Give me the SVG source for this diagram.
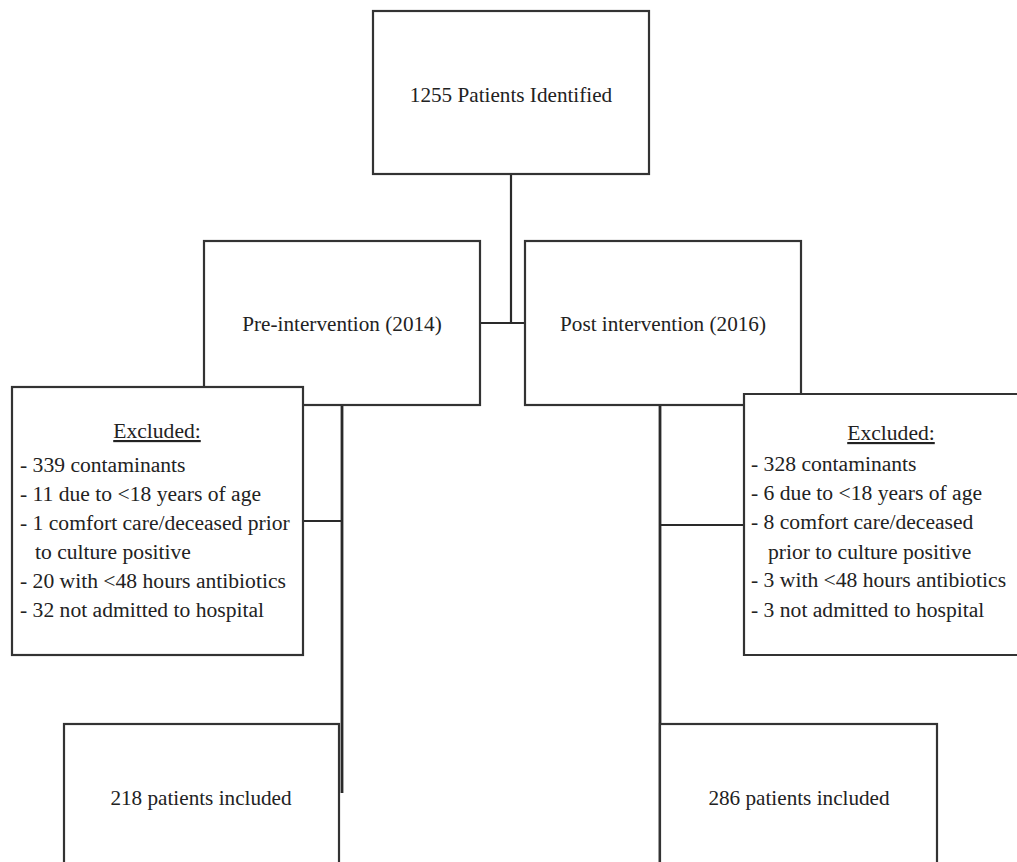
<svg xmlns="http://www.w3.org/2000/svg" width="1017" height="862" viewBox="0 0 1017 862">
<style>
.box{fill:#fff;stroke:#333;stroke-width:2.2}
.ln{fill:none;stroke:#2a2a2a;stroke-width:2.2}
text{font-family:'Liberation Serif','DejaVu Serif',serif;font-size:21.2px;fill:#222}
.l{font-size:21.6px}
.c{text-anchor:middle}
</style>
<rect width="1017" height="862" fill="#fff"/>
<g id="connectors">
<line class="ln" x1="511" y1="174" x2="511" y2="323"/>
<line class="ln" x1="480" y1="323" x2="525" y2="323"/>
<line class="ln" x1="342" y1="405" x2="342" y2="793" style="stroke-width:2.8"/>
<line class="ln" x1="303" y1="521" x2="342" y2="521"/>
<line class="ln" x1="660" y1="405" x2="660" y2="862" style="stroke-width:2.8"/>
<line class="ln" x1="660" y1="525" x2="744" y2="525"/>
</g>
<g id="n-identified">
<rect class="box" x="373" y="11" width="276" height="163"/>
<text class="c" x="511" y="102">1255 Patients Identified</text>
</g>
<g id="n-pre">
<rect class="box" x="204" y="241" width="276" height="164"/>
<text class="c" x="342" y="331">Pre-intervention (2014)</text>
</g>
<g id="n-post">
<rect class="box" x="525" y="241" width="276" height="164"/>
<text class="c" x="663" y="331">Post intervention (2016)</text>
</g>
<g id="n-excl-pre">
<rect class="box" x="12" y="387" width="291" height="268"/>
<text class="c l" x="157" y="438" text-decoration="underline">Excluded:</text>
<text class="l" x="20" y="472">- 339 contaminants</text>
<text class="l" x="20" y="501">- 11 due to &lt;18 years of age</text>
<text class="l" x="20" y="530">- 1 comfort care/deceased prior</text>
<text class="l" x="35" y="559">to culture positive</text>
<text class="l" x="20" y="588">- 20 with &lt;48 hours antibiotics</text>
<text class="l" x="20" y="617">- 32 not admitted to hospital</text>
</g>
<g id="n-excl-post">
<path class="box" d="M1020,394 H744 V655 H1020"/>
<text class="c l" x="891" y="440" text-decoration="underline">Excluded:</text>
<text class="l" x="751" y="471">- 328 contaminants</text>
<text class="l" x="751" y="500">- 6 due to &lt;18 years of age</text>
<text class="l" x="751" y="529">- 8 comfort care/deceased</text>
<text class="l" x="768" y="559">prior to culture positive</text>
<text class="l" x="751" y="587">- 3 with &lt;48 hours antibiotics</text>
<text class="l" x="751" y="617">- 3 not admitted to hospital</text>
</g>
<g id="n-incl-pre">
<rect class="box" x="64" y="724" width="275" height="150"/>
<text class="c" x="201" y="805">218 patients included</text>
</g>
<g id="n-incl-post">
<rect class="box" x="660" y="724" width="277" height="150"/>
<text class="c" x="799" y="805">286 patients included</text>
</g>
</svg>
